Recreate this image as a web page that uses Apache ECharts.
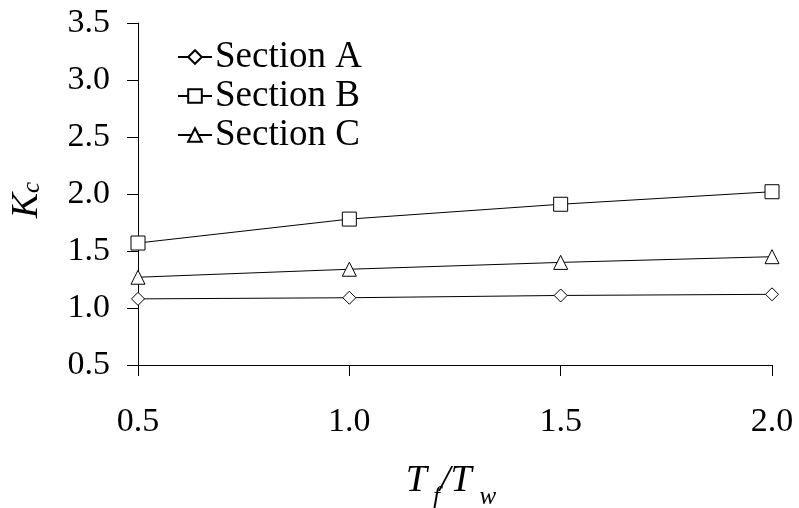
<!DOCTYPE html>
<html>
<head>
<meta charset="utf-8">
<script src="https://cdn.jsdelivr.net/npm/echarts@6/dist/echarts.min.js"></script>
<style>
html,body{margin:0;padding:0;background:#fff;}
#chart{width:799px;height:508px;}
</style>
</head>
<body>
<div id="chart"></div>
<script>
const xValues = [0.5, 1.0, 1.5, 2.0];
const sectionA = [1.08, 1.09, 1.11, 1.12];
const sectionB = [1.57, 1.78, 1.91, 2.02];
const sectionC = [1.27, 1.34, 1.40, 1.45];
const seriesNames = ['Section A', 'Section B', 'Section C'];
const xTicks = [0.5, 1.0, 1.5, 2.0];
const yTicks = [0.5, 1.0, 1.5, 2.0, 2.5, 3.0, 3.5];

const FONT = 'Liberation Serif';
const chart = echarts.init(document.getElementById('chart'), null, {renderer: 'canvas'});

function mk(name, vals, symbol, size) {
  return {
    name: name,
    type: 'line',
    data: xValues.map((x, i) => [x, vals[i]]),
    symbol: symbol,
    symbolSize: size,
    showAllSymbol: true,
    lineStyle: {color: '#000', width: 1},
    itemStyle: {color: '#fff', borderColor: '#000', borderWidth: 1},
    emphasis: {disabled: true},
    z: 3
  };
}

chart.setOption({
  backgroundColor: '#fff',
  animation: false,
  textStyle: {fontFamily: FONT, color: '#000'},
  grid: {left: 138, right: 27, top: 23, bottom: 143, containLabel: false, outerBoundsMode: 'none'},
  legend: {
    left: 172, top: 33, orient: 'vertical',
    itemWidth: 34, itemHeight: 17, itemGap: 1,
    data: seriesNames,
    textStyle: {fontFamily: FONT, fontSize: 37, color: '#000', lineHeight: 38, padding: [0, 0, 0, -2]}
  },
  xAxis: {
    type: 'value', min: xTicks[0], max: xTicks[xTicks.length - 1], interval: 0.5,
    name: '{t|T}{f|f}{t|/T}{s|w}', nameLocation: 'middle', nameGap: 97,
    nameTextStyle: {
      padding: [0, 8, 0, 0],
      rich: {
        t: {fontFamily: FONT, fontSize: 38, fontStyle: 'italic', color: '#000', verticalAlign: 'bottom'},
        f: {fontFamily: FONT, fontSize: 25, fontStyle: 'italic', color: '#000', verticalAlign: 'bottom', padding: [0, 0, -10, 6]},
        s: {fontFamily: FONT, fontSize: 25, fontStyle: 'italic', color: '#000', verticalAlign: 'bottom', padding: [0, 0, -10, 8]}
      }
    },
    axisLine: {show: true, onZero: false, lineStyle: {color: '#000', width: 1}},
    axisTick: {show: true, inside: false, length: 11, lineStyle: {color: '#000'}},
    axisLabel: {fontFamily: FONT, fontSize: 34, color: '#000', margin: 40, formatter: v => v.toFixed(1)},
    splitLine: {show: false}
  },
  yAxis: {
    type: 'value', min: yTicks[0], max: yTicks[yTicks.length - 1], interval: 0.5,
    name: '{t|K}{s|c}', nameLocation: 'middle', nameGap: 92, nameRotate: 90,
    nameTextStyle: {
      padding: [0, 12, 0, 0],
      rich: {
        t: {fontFamily: FONT, fontSize: 38, fontStyle: 'italic', color: '#000'},
        s: {fontFamily: FONT, fontSize: 25, fontStyle: 'italic', color: '#000', padding: [0, 0, -10, 0]}
      }
    },
    axisLine: {show: true, onZero: false, lineStyle: {color: '#000', width: 1}},
    axisTick: {show: true, inside: false, length: 11, lineStyle: {color: '#000'}},
    axisLabel: {fontFamily: FONT, fontSize: 34, color: '#000', margin: 28, formatter: v => v.toFixed(1)},
    splitLine: {show: false}
  },
  series: [
    mk(seriesNames[0], sectionA, 'diamond', 13),
    mk(seriesNames[1], sectionB, 'rect', 14),
    mk(seriesNames[2], sectionC, 'triangle', 14)
  ]
});
</script>
</body>
</html>
